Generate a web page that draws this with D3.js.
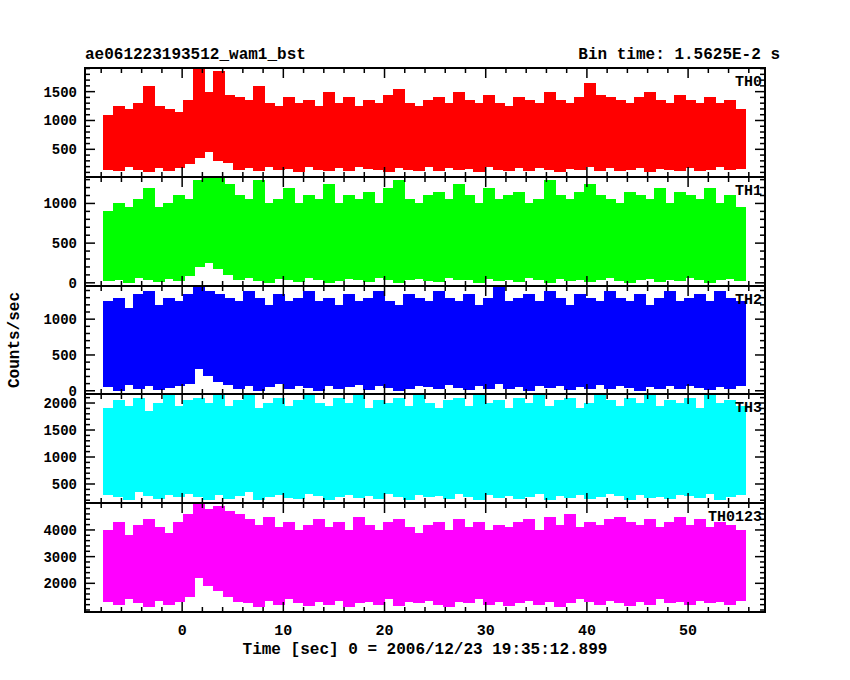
<!DOCTYPE html>
<html>
<head>
<meta charset="utf-8">
<script src="https://cdn.jsdelivr.net/npm/d3@7"></script>
<style>
  body { margin: 0; background: #fff; }
  text { font-family: "Liberation Mono", "DejaVu Sans Mono", monospace; font-weight: bold; fill: #000; }
</style>
</head>
<body>
<svg id="chart" width="850" height="680"></svg>
<script>
'use strict';

// light curve envelopes, one value per ~1 s bin, starting at t = -7.8 s
var th0Hi = [1100,1250,1200,1300,1600,1250,1200,1150,1350,1900,1500,1850,1450,1400,1350,1600,1300,1250,1400,1300,1350,1250,1500,1300,1400,1250,1350,1300,1450,1550,1300,1250,1350,1400,1300,1500,1350,1300,1450,1300,1250,1400,1350,1300,1500,1350,1300,1400,1650,1450,1400,1350,1300,1400,1500,1350,1300,1450,1350,1300,1400,1300,1350,1200];
var th0Lo = [150,120,200,140,110,180,130,170,250,350,450,300,260,150,180,120,200,140,160,110,190,150,130,170,120,200,160,140,110,180,150,130,190,120,170,140,160,110,200,150,130,170,120,180,150,110,160,140,190,130,170,120,150,180,110,160,140,130,170,120,150,190,140,160];
var th1Hi = [900,1000,950,1050,1200,950,1000,1100,1050,1300,1330,1330,1250,1100,1050,1300,1000,1050,1200,1000,1100,1050,1250,1000,1100,1050,1150,1000,1200,1300,1050,1000,1100,1150,1050,1250,1100,1000,1200,1050,1100,1150,1000,1050,1300,1100,1050,1150,1250,1100,1050,1000,1150,1100,1050,1200,1000,1150,1100,1050,1200,1000,1100,950];
var th1Lo = [20,40,0,60,30,10,50,20,80,200,250,180,100,40,60,20,0,50,30,10,60,40,0,20,50,30,10,60,40,0,30,50,20,10,60,40,30,0,50,20,40,10,60,30,0,50,20,40,10,30,60,20,0,40,50,10,30,20,60,40,0,30,50,20];
var th2Hi = [1250,1300,1150,1350,1400,1200,1300,1250,1350,1460,1400,1350,1300,1250,1400,1300,1200,1350,1250,1300,1400,1250,1300,1200,1350,1250,1300,1400,1250,1200,1350,1300,1250,1400,1300,1250,1350,1200,1300,1450,1250,1300,1350,1250,1400,1300,1200,1350,1300,1250,1400,1300,1250,1350,1200,1300,1400,1250,1300,1350,1250,1400,1300,1250];
var th2Lo = [50,0,80,20,60,10,40,70,100,300,200,120,80,30,60,0,50,90,20,60,40,0,70,30,50,80,10,60,40,0,30,70,50,20,80,40,10,60,30,90,20,50,0,70,40,60,10,50,30,80,20,60,40,0,50,30,70,20,60,40,10,50,30,60];
var th3Hi = [1900,2050,1950,2100,1850,2000,2150,1950,2050,2100,2000,2150,1950,2050,2150,1900,2000,2100,1950,2050,2150,2000,1950,2100,2000,2150,1900,2050,2000,2100,1950,2150,2000,1900,2050,2100,1950,2150,2000,2050,1900,2100,2000,2150,1950,2050,2100,1900,2000,2150,2050,1950,2100,2000,2150,1950,2050,2000,2100,1900,2150,2000,2050,1950];
var th3Lo = [300,250,200,350,280,220,300,260,320,250,200,300,230,280,350,200,260,300,240,220,320,280,200,260,300,240,280,220,320,260,200,300,250,280,230,320,260,200,300,240,280,220,260,320,200,280,240,300,220,260,320,280,200,300,240,260,220,300,280,240,320,200,260,300];
var th0123Hi = [4000,4300,3800,4200,4400,4100,3900,4300,4600,5000,4800,4900,4700,4600,4400,4200,4500,4100,4300,4000,4200,4400,4100,4300,4000,4500,4200,4000,4300,4400,4100,3900,4200,4300,4000,4400,4100,4300,4000,4200,4100,4300,4400,4000,4500,4200,4600,4100,4300,4200,4400,4500,4300,4200,4400,4100,4300,4500,4200,4400,4100,4300,4200,4000];
var th0123Lo = [1300,1200,1400,1250,1100,1350,1200,1300,1500,2200,1900,1700,1500,1300,1250,1100,1350,1200,1400,1250,1150,1300,1200,1350,1100,1250,1300,1200,1400,1150,1300,1250,1350,1200,1100,1300,1250,1400,1200,1300,1150,1250,1350,1200,1300,1100,1250,1400,1300,1200,1350,1250,1150,1300,1200,1400,1250,1300,1200,1350,1250,1300,1200,1350];

var binStart = -7.8, binWidth = 0.99;

var panels = [
  { name: 'TH0',    color: '#ff0000', hi: th0Hi,    lo: th0Lo,    domain: [20, 1910],    ticks: [500, 1000, 1500],  minor: 100 },
  { name: 'TH1',    color: '#00ff00', hi: th1Hi,    lo: th1Lo,    domain: [-40, 1333],   ticks: [0, 500, 1000],     minor: 100 },
  { name: 'TH2',    color: '#0000ff', hi: th2Hi,    lo: th2Lo,    domain: [-45, 1463],   ticks: [0, 500, 1000],     minor: 100 },
  { name: 'TH3',    color: '#00ffff', hi: th3Hi,    lo: th3Lo,    domain: [148, 2167],   ticks: [500, 1000, 1500, 2000], minor: 100 },
  { name: 'TH0123', color: '#ff00ff', hi: th0123Hi, lo: th0123Lo, domain: [925, 5010],   ticks: [2000, 3000, 4000], minor: 200 }
];

var svg = d3.select('#chart');
var left = 85, right = 765;
var edges = [68, 177, 286, 394, 503, 612];

var x = d3.scaleLinear().domain([-9.6, 57.6]).range([left, right]);

panels.forEach(function(p, k) {
  var top = edges[k], bottom = edges[k + 1];
  var y = d3.scaleLinear().domain(p.domain).range([bottom, top]);
  var g = svg.append('g');

  g.append('clipPath').attr('id', 'clip' + k)
    .append('rect').attr('x', left).attr('y', top).attr('width', right - left).attr('height', bottom - top);

  g.append('g').attr('clip-path', 'url(#clip' + k + ')')
    .attr('shape-rendering', 'crispEdges')
    .selectAll('rect').data(p.hi).enter().append('rect')
    .attr('x', function(d, i) { return Math.floor(x(binStart + i * binWidth)); })
    .attr('width', function() { return Math.ceil(x(binWidth) - x(0)) + 1; })
    .attr('y', function(d) { return y(d); })
    .attr('height', function(d, i) { return y(p.lo[i]) - y(d); })
    .attr('fill', p.color);

  // y ticks left/right
  var minorVals = d3.range(Math.ceil(p.domain[0] / p.minor) * p.minor, p.domain[1], p.minor);
  [[left, 1], [right, -1]].forEach(function(s) {
    g.selectAll(null).data(minorVals).enter().append('line')
      .attr('x1', s[0]).attr('x2', function(d) { return s[0] + s[1] * (p.ticks.indexOf(d) >= 0 ? 10 : 5); })
      .attr('y1', function(d) { return y(d); }).attr('y2', function(d) { return y(d); })
      .attr('stroke', '#000').attr('stroke-width', 1.5);
  });
  g.selectAll(null).data(p.ticks).enter().append('text')
    .attr('x', left - 8).attr('y', function(d) { return y(d) + 5; })
    .attr('text-anchor', 'end').attr('font-size', 14).text(function(d) { return d; });

  // x ticks top/bottom of each panel
  var xs = d3.range(-8, 57, 2);
  [[top, 1], [bottom, -1]].forEach(function(s) {
    g.selectAll(null).data(xs).enter().append('line')
      .attr('x1', function(d) { return x(d); }).attr('x2', function(d) { return x(d); })
      .attr('y1', s[0]).attr('y2', function(d) { return s[0] + s[1] * (d % 10 === 0 ? 10 : 5); })
      .attr('stroke', '#000').attr('stroke-width', 1.5);
  });

  g.append('rect').attr('x', left).attr('y', top).attr('width', right - left).attr('height', bottom - top)
    .attr('fill', 'none').attr('stroke', '#000').attr('stroke-width', 2);

  g.append('text').attr('x', right - 3).attr('y', top + 18).attr('text-anchor', 'end')
    .attr('font-size', 15).text(p.name);
});

var xAxisVals = [0, 10, 20, 30, 40, 50];
svg.selectAll(null).data(xAxisVals).enter().append('text')
  .attr('x', function(d) { return x(d); }).attr('y', edges[5] + 23)
  .attr('text-anchor', 'middle').attr('font-size', 15).text(function(d) { return d; });

svg.append('text').attr('x', left).attr('y', 59).attr('font-size', 16).text('ae061223193512_wam1_bst');
svg.append('text').attr('x', 780).attr('y', 59).attr('text-anchor', 'end').attr('font-size', 16).text('Bin time: 1.5625E-2 s');
svg.append('text').attr('x', 425).attr('y', 654).attr('text-anchor', 'middle').attr('font-size', 16)
  .text('Time [sec] 0 = 2006/12/23 19:35:12.899');
svg.append('text').attr('transform', 'translate(19,340) rotate(-90)').attr('text-anchor', 'middle')
  .attr('font-size', 16).text('Counts/sec');
</script>
</body>
</html>
